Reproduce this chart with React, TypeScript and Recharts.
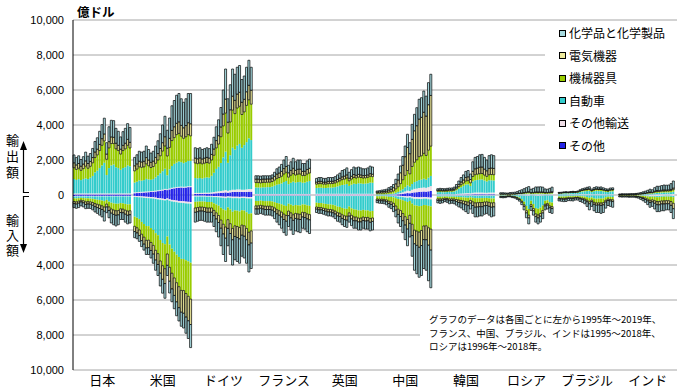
import React from 'react';
import { BarChart, Bar, XAxis, YAxis, CartesianGrid, Legend } from 'recharts';

const years = [1995, 1996, 1997, 1998, 1999, 2000, 2001, 2002, 2003, 2004, 2005, 2006, 2007, 2008, 2009, 2010, 2011, 2012, 2013, 2014, 2015, 2016, 2017, 2018, 2019];
const countryNames = ['日本', '米国', 'ドイツ', 'フランス', '英国', '中国', '韓国', 'ロシア', 'ブラジル', 'インド'];
const firstYears = [1995, 1995, 1995, 1995, 1995, 1995, 1995, 1996, 1995, 1995];
const yTicks = [-10000, -8000, -6000, -4000, -2000, 0, 2000, 4000, 6000, 8000, 10000];

// stacking order from the zero line outwards
const seriesKeys = ['oth', 'trn', 'car', 'mach', 'elec', 'chem'];
const seriesNames = ['その他', 'その他輸送', '自動車', '機械器具', '電気機器', '化学品と化学製品'];
const seriesColors = ['#2424e8', '#eedde6', '#33cccc', '#99cc00', '#eeea9c', '#a6dadf'];
const outlined = [false, false, false, false, true, true];

// 日本 (億ドル)
const jpExOth = [30, 30, 30, 30, 30, 30, 30, 30, 30, 30, 30, 30, 30, 30, 30, 30, 30, 30, 30, 30, 30, 30, 30, 30, 30];
const jpExTrn = [60, 60, 60, 60, 60, 60, 60, 60, 60, 60, 60, 60, 60, 60, 60, 60, 60, 60, 60, 60, 60, 60, 60, 60, 60];
const jpExCar = [820, 770, 820, 760, 820, 860, 820, 900, 1000, 1200, 1300, 1450, 1600, 1750, 1050, 1450, 1600, 1650, 1500, 1450, 1350, 1450, 1500, 1600, 1550];
const jpExMach = [650, 600, 620, 560, 600, 700, 620, 650, 750, 850, 900, 1000, 1150, 1250, 900, 1150, 1250, 1200, 1050, 1000, 900, 1000, 1050, 1150, 1050];
const jpExElec = [280, 260, 270, 240, 260, 300, 270, 280, 300, 320, 330, 350, 380, 400, 300, 360, 380, 360, 320, 300, 280, 300, 320, 340, 320];
const jpExChem = [450, 420, 440, 380, 420, 500, 420, 450, 520, 600, 650, 750, 800, 900, 650, 850, 950, 950, 850, 800, 700, 780, 850, 900, 850];
const jpImOth = [50, 50, 50, 50, 50, 50, 50, 50, 50, 50, 50, 50, 50, 50, 50, 50, 50, 50, 50, 50, 50, 50, 50, 50, 50];
const jpImTrn = [30, 30, 30, 30, 30, 30, 30, 30, 30, 30, 30, 30, 30, 30, 30, 30, 30, 30, 30, 30, 30, 30, 30, 30, 30];
const jpImCar = [110, 120, 100, 80, 90, 110, 110, 120, 140, 170, 190, 210, 240, 270, 200, 300, 360, 400, 420, 420, 380, 400, 430, 460, 450];
const jpImMach = [180, 190, 170, 140, 160, 200, 190, 190, 210, 240, 260, 280, 300, 340, 240, 300, 360, 380, 400, 390, 330, 330, 360, 380, 370];
const jpImElec = [120, 130, 120, 100, 120, 150, 140, 140, 160, 180, 190, 200, 210, 240, 170, 210, 240, 250, 260, 250, 210, 210, 230, 240, 230];
const jpImChem = [230, 240, 250, 220, 230, 240, 240, 240, 260, 300, 330, 380, 420, 560, 320, 410, 560, 590, 610, 560, 400, 380, 450, 490, 470];

// 米国
const usExOth = [100, 110, 120, 130, 140, 150, 160, 170, 180, 200, 220, 240, 260, 300, 280, 320, 360, 380, 400, 420, 430, 420, 430, 450, 450];
const usExTrn = [50, 50, 50, 50, 50, 50, 50, 50, 50, 50, 50, 50, 50, 50, 50, 50, 50, 50, 50, 50, 50, 50, 50, 50, 50];
const usExCar = [560, 600, 660, 640, 660, 720, 680, 650, 680, 760, 850, 950, 1050, 1150, 800, 1100, 1250, 1350, 1400, 1450, 1400, 1350, 1400, 1450, 1450];
const usExMach = [670, 720, 780, 760, 760, 860, 780, 700, 720, 800, 880, 1000, 1150, 1300, 1100, 1250, 1450, 1500, 1600, 1600, 1480, 1420, 1450, 1500, 1430];
const usExElec = [290, 300, 320, 310, 320, 360, 330, 300, 310, 340, 370, 420, 480, 530, 450, 520, 580, 620, 650, 660, 620, 600, 640, 680, 690];
const usExChem = [480, 520, 570, 560, 570, 660, 600, 530, 560, 650, 730, 840, 1010, 1170, 1020, 1160, 1410, 1500, 1600, 1620, 1520, 1460, 1530, 1670, 1730];
const usImOth = [50, 60, 70, 80, 90, 100, 110, 120, 130, 150, 170, 190, 210, 230, 200, 250, 280, 300, 320, 340, 350, 360, 380, 390, 400];
const usImTrn = [60, 60, 60, 60, 70, 70, 70, 70, 70, 80, 80, 80, 80, 80, 70, 80, 90, 90, 90, 100, 100, 100, 100, 100, 100];
const usImCar = [1130, 1180, 1250, 1400, 1500, 1600, 1600, 1700, 1800, 1950, 2050, 2300, 2450, 2500, 2100, 2500, 2700, 2850, 3000, 3100, 3200, 3200, 3250, 3300, 3370];
const usImMach = [550, 570, 620, 700, 750, 820, 800, 820, 880, 980, 1050, 1200, 1300, 1400, 1000, 1300, 1400, 1500, 1600, 1700, 1800, 1800, 1900, 2000, 2080];
const usImElec = [300, 300, 320, 370, 400, 440, 430, 460, 500, 560, 620, 700, 780, 850, 650, 800, 900, 1000, 1100, 1200, 1250, 1300, 1350, 1400, 1450];
const usImChem = [350, 330, 330, 340, 340, 370, 390, 430, 520, 580, 630, 730, 790, 840, 580, 670, 730, 760, 790, 760, 800, 840, 920, 1010, 1320];

// ドイツ
const deExOth = [60, 60, 60, 60, 70, 70, 70, 80, 90, 100, 110, 120, 130, 150, 130, 150, 170, 170, 180, 180, 170, 170, 180, 190, 190];
const deExTrn = [60, 60, 60, 60, 60, 60, 60, 70, 80, 90, 100, 110, 120, 130, 110, 120, 130, 130, 140, 140, 130, 130, 140, 150, 150];
const deExCar = [850, 830, 850, 820, 850, 880, 860, 950, 1100, 1300, 1400, 1600, 1900, 2200, 1600, 2000, 2400, 2300, 2500, 2600, 2400, 2550, 2700, 2900, 2800];
const deExMach = [860, 840, 860, 840, 840, 850, 830, 900, 1000, 1200, 1300, 1500, 1800, 2200, 1700, 1900, 2150, 2050, 2150, 2150, 1900, 1900, 2100, 2200, 2050];
const deExElec = [280, 280, 290, 280, 290, 290, 290, 320, 360, 420, 480, 560, 680, 800, 620, 700, 800, 760, 800, 800, 700, 720, 780, 830, 800];
const deExChem = [590, 580, 580, 540, 540, 550, 540, 580, 670, 790, 910, 1110, 1370, 1720, 1340, 1430, 1550, 1490, 1530, 1530, 1300, 1330, 1400, 1430, 1310];
const deImOth = [40, 40, 40, 40, 40, 50, 50, 50, 60, 60, 70, 80, 90, 100, 80, 90, 100, 100, 100, 110, 100, 100, 110, 120, 120];
const deImTrn = [50, 50, 50, 50, 50, 50, 50, 50, 60, 60, 60, 70, 70, 80, 70, 70, 80, 80, 80, 80, 70, 70, 80, 80, 80];
const deImCar = [300, 290, 280, 280, 290, 300, 300, 300, 360, 420, 480, 580, 660, 700, 560, 660, 780, 700, 720, 750, 700, 720, 800, 880, 850];
const deImMach = [350, 340, 320, 320, 330, 340, 340, 340, 400, 480, 560, 700, 850, 950, 700, 820, 950, 880, 900, 920, 850, 870, 920, 1050, 1000];
const deImElec = [250, 240, 230, 230, 240, 250, 250, 250, 300, 350, 400, 470, 560, 640, 500, 560, 650, 610, 630, 650, 580, 600, 650, 720, 700];
const deImChem = [560, 540, 530, 530, 550, 560, 560, 560, 620, 730, 830, 1000, 1170, 1330, 990, 1200, 1440, 1330, 1370, 1390, 1200, 1240, 1340, 1550, 1450];

// フランス (1995-2018)
const frExOth = [20, 20, 20, 20, 20, 20, 20, 20, 20, 20, 20, 20, 20, 20, 20, 20, 20, 20, 20, 20, 20, 20, 20, 20];
const frExTrn = [40, 40, 40, 40, 40, 40, 40, 40, 40, 40, 40, 40, 40, 40, 40, 40, 40, 40, 40, 40, 40, 40, 40, 40];
const frExCar = [370, 370, 360, 380, 380, 390, 390, 420, 470, 530, 560, 600, 680, 740, 560, 640, 700, 650, 680, 690, 640, 650, 700, 740];
const frExMach = [280, 280, 270, 280, 280, 280, 280, 290, 320, 360, 380, 410, 460, 500, 400, 430, 470, 430, 450, 450, 410, 410, 440, 460];
const frExElec = [200, 200, 190, 190, 190, 190, 190, 200, 220, 250, 260, 280, 310, 330, 250, 280, 300, 270, 280, 280, 240, 240, 260, 270];
const frExChem = [190, 190, 200, 190, 190, 180, 180, 180, 230, 300, 340, 400, 490, 570, 430, 490, 570, 490, 530, 520, 450, 440, 490, 520];
const frImOth = [20, 20, 20, 20, 20, 20, 20, 20, 20, 20, 20, 20, 20, 20, 20, 20, 20, 20, 20, 20, 20, 20, 20, 20];
const frImTrn = [30, 30, 30, 30, 30, 30, 30, 30, 30, 30, 30, 30, 30, 30, 30, 30, 30, 30, 30, 30, 30, 30, 30, 30];
const frImCar = [290, 290, 270, 290, 300, 300, 300, 320, 360, 410, 440, 480, 540, 580, 450, 500, 560, 520, 540, 550, 490, 500, 540, 570];
const frImMach = [280, 280, 270, 280, 290, 290, 290, 300, 330, 380, 410, 450, 500, 540, 420, 470, 520, 480, 490, 500, 450, 460, 490, 500];
const frImElec = [180, 180, 170, 180, 190, 190, 190, 200, 220, 240, 260, 280, 310, 330, 260, 290, 320, 290, 300, 300, 270, 280, 290, 300];
const frImChem = [300, 300, 290, 300, 320, 320, 320, 330, 390, 470, 540, 640, 750, 800, 620, 690, 800, 710, 720, 750, 640, 660, 730, 780];

// 英国
const ukExOth = [20, 20, 20, 20, 20, 20, 20, 20, 20, 20, 20, 20, 20, 20, 20, 20, 20, 20, 20, 20, 20, 20, 20, 20, 20];
const ukExTrn = [50, 50, 50, 50, 50, 50, 50, 50, 50, 50, 50, 50, 50, 50, 50, 50, 50, 50, 50, 50, 50, 50, 50, 50, 50];
const ukExCar = [330, 350, 350, 330, 330, 350, 350, 360, 380, 420, 460, 500, 520, 560, 450, 520, 580, 560, 600, 590, 570, 580, 600, 640, 630];
const ukExMach = [220, 230, 230, 220, 220, 230, 230, 230, 240, 260, 280, 310, 320, 340, 290, 320, 350, 340, 350, 340, 330, 330, 340, 360, 350];
const ukExElec = [120, 130, 130, 120, 120, 130, 130, 130, 130, 140, 150, 160, 170, 180, 150, 160, 170, 160, 160, 150, 140, 140, 140, 150, 140];
const ukExChem = [210, 220, 220, 210, 210, 220, 220, 210, 230, 260, 290, 360, 370, 400, 340, 380, 430, 420, 420, 400, 390, 380, 400, 430, 410];
const ukImOth = [20, 20, 20, 20, 20, 20, 20, 20, 20, 20, 20, 20, 20, 20, 20, 20, 20, 20, 20, 20, 20, 20, 20, 20, 20];
const ukImTrn = [40, 40, 40, 40, 40, 40, 40, 40, 40, 40, 40, 40, 40, 40, 40, 40, 40, 40, 40, 40, 40, 40, 40, 40, 40];
const ukImCar = [380, 400, 400, 430, 450, 470, 480, 500, 540, 600, 620, 680, 720, 730, 600, 700, 760, 780, 820, 830, 790, 820, 820, 870, 850];
const ukImMach = [250, 260, 260, 270, 280, 290, 290, 300, 320, 350, 360, 390, 410, 420, 360, 400, 430, 420, 440, 430, 410, 410, 400, 420, 400];
const ukImElec = [120, 130, 130, 130, 140, 150, 150, 160, 170, 190, 190, 210, 220, 230, 190, 210, 220, 220, 220, 220, 200, 200, 200, 210, 200];
const ukImChem = [190, 200, 200, 210, 220, 230, 220, 230, 260, 300, 320, 360, 390, 410, 340, 380, 430, 420, 460, 460, 440, 460, 470, 490, 490];

// 中国 (1995-2018)
const cnExOth = [10, 10, 10, 10, 10, 15, 15, 20, 30, 40, 50, 70, 90, 110, 100, 130, 150, 160, 180, 190, 200, 190, 210, 230];
const cnExTrn = [10, 10, 10, 10, 10, 15, 15, 20, 30, 40, 60, 80, 110, 140, 130, 170, 200, 210, 220, 220, 230, 220, 240, 280];
const cnExCar = [20, 20, 20, 20, 25, 30, 35, 45, 70, 100, 140, 180, 240, 300, 250, 330, 390, 420, 450, 470, 500, 470, 540, 580];
const cnExMach = [60, 65, 70, 75, 80, 100, 115, 145, 220, 290, 400, 540, 680, 850, 730, 1000, 1130, 1220, 1340, 1360, 1450, 1380, 1570, 1700];
const cnExElec = [70, 75, 85, 90, 100, 130, 150, 190, 290, 390, 620, 830, 1070, 1320, 1150, 1550, 1800, 1950, 2150, 2200, 2350, 2250, 2600, 2900];
const cnExChem = [60, 70, 85, 95, 105, 130, 150, 180, 260, 340, 390, 500, 610, 750, 630, 860, 940, 1030, 1130, 1120, 1210, 1140, 1260, 1210];
const cnImOth = [10, 10, 10, 10, 15, 20, 20, 25, 30, 40, 50, 60, 70, 80, 70, 100, 120, 120, 130, 130, 120, 120, 140, 150];
const cnImTrn = [20, 20, 20, 20, 20, 25, 25, 30, 40, 50, 50, 60, 70, 80, 70, 90, 100, 100, 100, 100, 90, 90, 100, 100];
const cnImCar = [40, 40, 40, 40, 45, 60, 65, 80, 110, 140, 150, 180, 210, 240, 200, 300, 370, 390, 410, 400, 360, 370, 380, 400];
const cnImMach = [160, 170, 170, 180, 200, 250, 280, 340, 450, 580, 640, 760, 890, 1000, 820, 1180, 1420, 1450, 1480, 1400, 1200, 1180, 1250, 1300];
const cnImElec = [80, 90, 90, 95, 105, 130, 150, 180, 240, 300, 340, 410, 480, 550, 460, 650, 780, 820, 870, 860, 780, 800, 1000, 1200];
const cnImChem = [130, 140, 150, 155, 175, 215, 240, 295, 380, 490, 570, 680, 830, 950, 780, 1180, 1510, 1620, 1710, 1710, 1650, 1740, 2030, 2150];

// 韓国
const krExOth = [10, 10, 10, 10, 10, 10, 10, 10, 15, 20, 20, 20, 25, 30, 25, 35, 40, 40, 40, 40, 40, 35, 40, 40, 40];
const krExTrn = [30, 30, 30, 30, 30, 30, 30, 30, 40, 50, 60, 70, 80, 80, 70, 90, 100, 100, 100, 100, 90, 90, 100, 100, 100];
const krExCar = [120, 130, 120, 120, 130, 140, 140, 160, 210, 290, 360, 420, 490, 500, 420, 650, 700, 720, 740, 750, 700, 650, 700, 700, 690];
const krExMach = [60, 60, 60, 60, 60, 60, 60, 70, 90, 120, 150, 170, 200, 210, 180, 280, 320, 330, 340, 340, 310, 290, 320, 330, 330];
const krExElec = [60, 60, 60, 60, 60, 65, 65, 70, 95, 130, 160, 180, 210, 220, 190, 300, 340, 350, 370, 370, 340, 320, 360, 370, 360];
const krExChem = [80, 90, 90, 80, 90, 95, 95, 110, 150, 190, 250, 290, 345, 360, 315, 545, 650, 660, 710, 720, 670, 615, 730, 760, 730];
const krImOth = [10, 10, 10, 10, 10, 10, 10, 10, 10, 10, 10, 10, 10, 10, 10, 10, 10, 10, 10, 10, 10, 10, 10, 10, 10];
const krImTrn = [30, 30, 30, 30, 30, 30, 30, 30, 30, 30, 30, 30, 30, 30, 30, 30, 30, 30, 30, 30, 30, 30, 30, 30, 30];
const krImCar = [60, 60, 55, 45, 50, 60, 60, 60, 70, 80, 90, 100, 110, 120, 90, 120, 140, 140, 140, 140, 130, 130, 150, 160, 160];
const krImMach = [120, 130, 120, 100, 110, 130, 120, 130, 150, 170, 180, 200, 220, 240, 180, 230, 270, 260, 250, 250, 230, 220, 230, 250, 240];
const krImElec = [90, 100, 90, 75, 85, 100, 95, 100, 120, 140, 150, 170, 190, 210, 160, 210, 250, 250, 240, 240, 220, 210, 230, 250, 240];
const krImChem = [140, 150, 145, 120, 135, 170, 155, 170, 200, 250, 280, 340, 390, 440, 330, 450, 550, 560, 530, 530, 480, 450, 500, 550, 520];

// ロシア (1996-2018)
const ruExOth = [5, 5, 5, 5, 5, 5, 5, 5, 5, 5, 5, 5, 5, 5, 5, 5, 5, 5, 5, 5, 5, 5, 5];
const ruExTrn = [20, 20, 20, 20, 20, 20, 20, 25, 30, 30, 35, 40, 45, 35, 35, 40, 40, 40, 40, 35, 35, 40, 45];
const ruExCar = [10, 10, 10, 10, 10, 10, 10, 10, 15, 15, 20, 25, 30, 20, 20, 25, 25, 25, 25, 20, 20, 25, 30];
const ruExMach = [20, 20, 20, 20, 20, 25, 25, 30, 40, 45, 50, 60, 70, 50, 55, 65, 65, 65, 65, 55, 55, 60, 65];
const ruExElec = [10, 10, 10, 10, 10, 10, 10, 15, 20, 25, 30, 35, 40, 30, 35, 40, 40, 40, 40, 30, 30, 35, 40];
const ruExChem = [65, 65, 55, 45, 75, 80, 90, 105, 140, 180, 220, 255, 290, 190, 230, 285, 285, 295, 275, 205, 185, 215, 265];
const ruImOth = [10, 10, 10, 10, 10, 10, 10, 10, 10, 10, 10, 10, 10, 10, 10, 10, 10, 10, 10, 10, 10, 10, 10];
const ruImTrn = [10, 10, 10, 10, 10, 10, 10, 15, 20, 25, 30, 35, 40, 20, 25, 35, 40, 35, 30, 20, 20, 25, 25];
const ruImCar = [20, 25, 20, 10, 10, 25, 40, 70, 110, 200, 340, 580, 750, 300, 480, 700, 740, 680, 560, 300, 270, 370, 400];
const ruImMach = [40, 40, 40, 30, 30, 40, 45, 60, 80, 120, 180, 270, 350, 220, 260, 330, 350, 330, 290, 200, 190, 220, 230];
const ruImElec = [20, 20, 20, 15, 15, 20, 25, 30, 40, 60, 90, 130, 160, 110, 130, 160, 170, 160, 140, 100, 90, 110, 110];
const ruImChem = [50, 55, 50, 35, 35, 45, 50, 65, 90, 135, 200, 275, 340, 220, 245, 315, 340, 335, 320, 220, 220, 265, 275];

// ブラジル (1995-2018)
const brExOth = [5, 5, 5, 5, 5, 5, 5, 5, 5, 5, 5, 5, 5, 5, 5, 5, 5, 5, 5, 5, 5, 5, 5, 5];
const brExTrn = [20, 20, 25, 25, 30, 35, 35, 30, 30, 40, 40, 40, 40, 40, 35, 35, 40, 40, 40, 35, 30, 30, 35, 35];
const brExCar = [50, 55, 65, 70, 60, 70, 75, 75, 90, 120, 150, 165, 180, 190, 130, 170, 190, 180, 180, 160, 140, 130, 160, 170];
const brExMach = [30, 30, 35, 35, 35, 40, 40, 40, 45, 55, 65, 70, 80, 85, 65, 80, 85, 85, 90, 80, 70, 65, 75, 75];
const brExElec = [15, 15, 15, 15, 15, 15, 20, 15, 20, 25, 30, 35, 35, 35, 25, 30, 35, 30, 30, 25, 25, 25, 30, 30];
const brExChem = [30, 35, 35, 40, 35, 35, 35, 35, 40, 55, 70, 85, 100, 115, 80, 100, 115, 110, 115, 105, 90, 85, 95, 95];
const brImOth = [5, 5, 5, 5, 5, 5, 5, 5, 5, 5, 5, 5, 5, 5, 5, 5, 5, 5, 5, 5, 5, 5, 5, 5];
const brImTrn = [20, 20, 20, 20, 20, 20, 20, 20, 20, 20, 20, 20, 20, 20, 20, 20, 20, 20, 20, 20, 20, 20, 20, 20];
const brImCar = [60, 60, 60, 55, 40, 45, 45, 35, 30, 45, 50, 70, 100, 140, 110, 170, 190, 180, 180, 170, 100, 70, 80, 90];
const brImMach = [90, 95, 100, 100, 85, 85, 90, 75, 75, 95, 110, 130, 170, 220, 160, 220, 240, 240, 250, 240, 180, 140, 150, 160];
const brImElec = [50, 55, 60, 55, 50, 50, 50, 45, 45, 55, 65, 75, 95, 120, 90, 120, 130, 130, 140, 130, 100, 80, 90, 100];
const brImChem = [115, 125, 135, 135, 120, 125, 130, 110, 115, 150, 170, 200, 260, 345, 265, 365, 415, 425, 455, 435, 345, 285, 305, 325];

// インド (1995-2018)
const inExOth = [5, 5, 5, 5, 5, 5, 5, 5, 5, 5, 5, 5, 5, 5, 5, 5, 5, 5, 5, 5, 5, 5, 5, 5];
const inExTrn = [5, 5, 5, 5, 5, 5, 5, 5, 10, 10, 15, 15, 20, 25, 25, 30, 35, 35, 40, 40, 40, 40, 45, 50];
const inExCar = [5, 5, 5, 5, 5, 10, 10, 10, 15, 20, 25, 35, 40, 50, 50, 70, 80, 80, 90, 100, 100, 100, 110, 130];
const inExMach = [10, 10, 10, 10, 10, 10, 10, 15, 15, 20, 25, 30, 40, 50, 45, 65, 75, 75, 80, 80, 80, 85, 95, 120];
const inExElec = [5, 10, 10, 10, 10, 10, 10, 10, 15, 20, 25, 30, 35, 40, 35, 50, 60, 55, 60, 65, 60, 65, 70, 90];
const inExChem = [30, 35, 35, 35, 35, 40, 40, 45, 50, 65, 85, 105, 130, 160, 140, 200, 245, 250, 265, 280, 275, 275, 325, 405];
const inImOth = [5, 5, 5, 5, 5, 5, 5, 5, 5, 5, 5, 5, 5, 5, 5, 5, 5, 5, 5, 5, 5, 5, 5, 5];
const inImTrn = [10, 10, 10, 10, 10, 10, 10, 10, 15, 20, 25, 30, 40, 60, 50, 50, 60, 55, 45, 40, 35, 35, 40, 50];
const inImCar = [5, 5, 5, 5, 5, 5, 5, 5, 10, 15, 20, 25, 35, 40, 40, 50, 60, 60, 55, 50, 50, 55, 60, 70];
const inImMach = [30, 35, 35, 35, 35, 35, 35, 40, 50, 70, 90, 120, 160, 200, 180, 220, 250, 250, 230, 240, 230, 230, 270, 350];
const inImElec = [15, 15, 15, 15, 20, 20, 20, 25, 30, 40, 60, 80, 100, 120, 120, 150, 180, 190, 180, 180, 180, 180, 220, 310];
const inImChem = [45, 50, 50, 50, 55, 55, 55, 65, 70, 100, 130, 160, 210, 275, 255, 325, 395, 390, 385, 385, 350, 345, 405, 565];

const exportSets = [
  [jpExOth, jpExTrn, jpExCar, jpExMach, jpExElec, jpExChem],
  [usExOth, usExTrn, usExCar, usExMach, usExElec, usExChem],
  [deExOth, deExTrn, deExCar, deExMach, deExElec, deExChem],
  [frExOth, frExTrn, frExCar, frExMach, frExElec, frExChem],
  [ukExOth, ukExTrn, ukExCar, ukExMach, ukExElec, ukExChem],
  [cnExOth, cnExTrn, cnExCar, cnExMach, cnExElec, cnExChem],
  [krExOth, krExTrn, krExCar, krExMach, krExElec, krExChem],
  [ruExOth, ruExTrn, ruExCar, ruExMach, ruExElec, ruExChem],
  [brExOth, brExTrn, brExCar, brExMach, brExElec, brExChem],
  [inExOth, inExTrn, inExCar, inExMach, inExElec, inExChem],
];
const importSets = [
  [jpImOth, jpImTrn, jpImCar, jpImMach, jpImElec, jpImChem],
  [usImOth, usImTrn, usImCar, usImMach, usImElec, usImChem],
  [deImOth, deImTrn, deImCar, deImMach, deImElec, deImChem],
  [frImOth, frImTrn, frImCar, frImMach, frImElec, frImChem],
  [ukImOth, ukImTrn, ukImCar, ukImMach, ukImElec, ukImChem],
  [cnImOth, cnImTrn, cnImCar, cnImMach, cnImElec, cnImChem],
  [krImOth, krImTrn, krImCar, krImMach, krImElec, krImChem],
  [ruImOth, ruImTrn, ruImCar, ruImMach, ruImElec, ruImChem],
  [brImOth, brImTrn, brImCar, brImMach, brImElec, brImChem],
  [inImOth, inImTrn, inImCar, inImMach, inImElec, inImChem],
];

// one slot per year, one empty slot between countries
const rows: Record<string, string | number>[] = [];
const tickKeys: string[] = [];
countryNames.forEach((name, ci) => {
  years.forEach((y) => {
    const row: Record<string, string | number> = { key: `${name}-${y}` };
    const i = y - firstYears[ci];
    seriesKeys.forEach((s, si) => {
      const e = exportSets[ci][si][i];
      const m = importSets[ci][si][i];
      if (i >= 0 && e !== undefined) row[`ex_${s}`] = e;
      if (i >= 0 && m !== undefined) row[`im_${s}`] = -m;
    });
    rows.push(row);
  });
  tickKeys.push(`${name}-2007`);
  if (ci < countryNames.length - 1) rows.push({ key: `gap-${ci}` });
});

const jp = '"Noto Sans CJK JP", sans-serif';

const LegendBox = () => (
  <div style={{ background: '#fff', width: 135, height: 136, fontFamily: jp }}>
    {seriesNames
      .map((n, i) => ({ n, c: seriesColors[i] }))
      .reverse()
      .map((it) => (
        <div key={it.n} style={{ height: 22.5, display: 'flex', alignItems: 'center', paddingLeft: 14 }}>
          <span style={{ display: 'inline-block', width: 5, height: 5, border: '1px solid #000', background: it.c, marginRight: 3 }} />
          <span style={{ fontSize: 12, color: '#000', lineHeight: '14px' }}>{it.n}</span>
        </div>
      ))}
  </div>
);

const sideLabel = (text: string, top: number, spacing: number) => (
  <div
    style={{
      position: 'absolute',
      left: 5,
      top,
      width: 14,
      writingMode: 'vertical-rl',
      fontFamily: jp,
      fontSize: 13,
      lineHeight: '14px',
      letterSpacing: spacing,
      color: '#000',
    }}
  >
    {text}
  </div>
);

export default function App() {
  return (
    <div style={{ position: 'absolute', left: 0, top: 0, width: 700, height: 391, background: '#fff' }}>
      <BarChart
        width={700}
        height={391}
        data={rows}
        stackOffset="sign"
        barCategoryGap={0}
        barGap={0}
        margin={{ top: 20, right: 23, left: 0, bottom: 0 }}
      >
        <CartesianGrid vertical={false} stroke="#a6a6a6" />
        <XAxis
          dataKey="key"
          ticks={tickKeys}
          interval={0}
          tickFormatter={(v) => String(v).split('-')[0]}
          axisLine={false}
          tickLine={false}
          tickMargin={0}
          height={21}
          tick={{ fontSize: 13, fill: '#000', fontFamily: jp }}
        />
        <YAxis
          type="number"
          domain={[-10000, 10000]}
          ticks={yTicks}
          interval={0}
          width={73}
          axisLine={{ stroke: '#000' }}
          tickLine={false}
          tickMargin={3}
          tickFormatter={(v) => Math.abs(v).toLocaleString('en-US')}
          tick={{ fontSize: 11, fill: '#000', fontFamily: '"Liberation Sans", Arial, sans-serif' }}
        />
        <Legend
          layout="vertical"
          align="center"
          verticalAlign="middle"
          content={() => <LegendBox />}
          wrapperStyle={{ left: 545, top: 22, width: 135, height: 136 }}
        />
        {['ex', 'im'].map((flow) =>
          seriesKeys.map((s, si) => (
            <Bar
              key={`${flow}_${s}`}
              dataKey={`${flow}_${s}`}
              name={seriesNames[si]}
              stackId="a"
              fill={seriesColors[si]}
              stroke={outlined[si] ? '#000' : 'none'}
              strokeWidth={outlined[si] ? 0.7 : 0}
              isAnimationActive={false}
            />
          ))
        )}
      </BarChart>
      <svg width={700} height={391} style={{ position: 'absolute', left: 0, top: 0, pointerEvents: 'none' }}>
        <text x={77} y={17} fontSize={12.5} fontWeight="bold" fontFamily={jp}>億ドル</text>
        <path d="M23.5 149 V192.5 H29" stroke="#000" strokeWidth={1.2} fill="none" />
        <polygon points="23.5,141 20,150 27,150" fill="#000" />
        <path d="M29 196.5 H23.5 V245" stroke="#000" strokeWidth={1.2} fill="none" />
        <polygon points="23.5,253 20,244 27,244" fill="#000" />
      </svg>
      {sideLabel('輸出額', 134, 3)}
      {sideLabel('輸入額', 214, 2)}
      <div
        style={{
          position: 'absolute',
          left: 420,
          top: 306,
          width: 257,
          height: 56,
          background: '#fff',
          fontFamily: jp,
          fontSize: 9.5,
          lineHeight: '13.5px',
          color: '#000',
          paddingLeft: 9,
          paddingTop: 7,
          boxSizing: 'border-box',
        }}
      >
        <div>グラフのデータは各国ごとに左から1995年～2019年、</div>
        <div>フランス、中国、ブラジル、インドは1995～2018年、</div>
        <div>ロシアは1996年～2018年。</div>
      </div>
    </div>
  );
}
